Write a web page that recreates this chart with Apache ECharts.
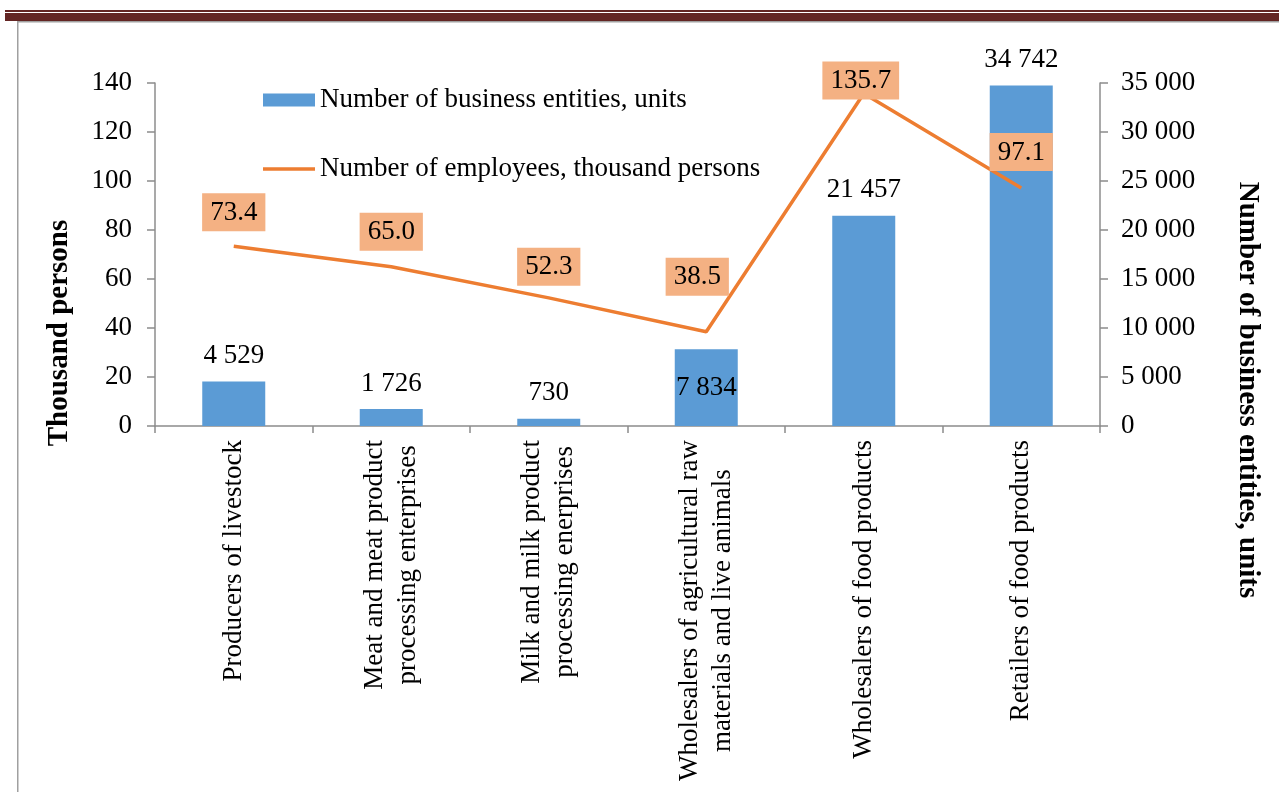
<!DOCTYPE html>
<html>
<head>
<meta charset="utf-8">
<script src="https://cdn.jsdelivr.net/npm/echarts@6/dist/echarts.min.js"></script>
<style>
html,body{margin:0;padding:0;background:#fff;}
#chart{width:1279px;height:792px;}
</style>
</head>
<body>
<div id="chart"></div>
<script>
// ---- data ----
const categories = [
  "Producers of livestock",
  "Meat and meat product\nprocessing enterprises",
  "Milk and milk product\nprocessing enerprises",
  "Wholesalers of agricultural raw\nmaterials and live animals",
  "Wholesalers of food products",
  "Retailers of food products"
];
const businessEntities = [4529, 1726, 730, 7834, 21457, 34742];
const employees = [73.4, 65.0, 52.3, 38.5, 135.7, 97.1];
const seriesNames = ["Number of business entities, units", "Number of employees, thousand persons"];
const leftAxisTitle = "Thousand persons";
const rightAxisTitle = "Number of business entities, units";

// ---- styling ----
const FONT = "'Liberation Serif', 'Times New Roman', serif";
const AXIS_COLOR = '#8c8c8c';
const LINE_COLOR = '#ED7D31';
const fmtSpace = v => String(v).replace(/\B(?=(\d{3})+(?!\d))/g, ' ');
// label placement tweaks (style, not data)
const lineLabelShift = [[0,-3],[0,-4],[0,0],[-9,-24],[-3,18],[0,-5]];
const barLabelInside = [false,false,false,true,false,false];

const chart = echarts.init(document.getElementById('chart'), null, {renderer:'canvas'});

const option = {
  backgroundColor: '#fff',
  animation: false,
  textStyle: {fontFamily: FONT},
  grid: {left: 155, right: 179, top: 83, bottom: 366, containLabel: false},
  legend: {
    orient: 'vertical',
    left: 263, top: 85,
    padding: 0,
    itemWidth: 52, itemHeight: 13,
    itemGap: 39,
    textStyle: {fontFamily: FONT, fontSize: 27, color: '#000', lineHeight: 30},
    data: [
      {name: seriesNames[0], icon: 'rect'},
      {name: seriesNames[1], icon: 'path://M0,0L52,0L52,3.5L0,3.5Z'}
    ]
  },
  xAxis: {
    type: 'category',
    data: categories,
    boundaryGap: true,
    axisLine: {show: true, lineStyle: {color: AXIS_COLOR, width: 1.5}},
    axisTick: {show: true, length: 7, lineStyle: {color: AXIS_COLOR, width: 1.5}},
    axisLabel: {
      interval: 0, rotate: 90, margin: 14,
      formatter: v => v.split('\n').map(s => '{c|' + s + '}').join('\n'),
      rich: {c: {fontFamily: FONT, fontSize: 27, lineHeight: 33, color: '#000', align: 'center'}}
    },
    splitLine: {show: false}
  },
  yAxis: [
    {
      type: 'value', min: 0, max: 140, interval: 20, position: 'left',
      axisLine: {show: true, lineStyle: {color: AXIS_COLOR, width: 1.5}},
      axisTick: {show: true, length: 8, lineStyle: {color: AXIS_COLOR, width: 1.5}},
      axisLabel: {fontFamily: FONT, fontSize: 27, color: '#000', margin: 23},
      splitLine: {show: false}
    },
    {
      type: 'value', min: 0, max: 35000, interval: 5000, position: 'right',
      axisLine: {show: true, lineStyle: {color: AXIS_COLOR, width: 1.5}},
      axisTick: {show: true, length: 8, lineStyle: {color: AXIS_COLOR, width: 1.5}},
      axisLabel: {fontFamily: FONT, fontSize: 27, color: '#000', margin: 21, formatter: v => fmtSpace(v)},
      splitLine: {show: false}
    }
  ],
  series: [
    {
      name: seriesNames[0],
      type: 'bar',
      yAxisIndex: 1,
      barWidth: 63,
      itemStyle: {color: '#5B9BD5'},
      data: businessEntities.map((v, i) => ({
        value: v,
        label: {position: barLabelInside[i] ? 'inside' : 'top'}
      })),
      label: {
        show: true, position: 'top', distance: 12,
        fontFamily: FONT, fontSize: 27, color: '#000',
        formatter: p => fmtSpace(p.value)
      }
    },
    {
      name: seriesNames[1],
      type: 'line',
      yAxisIndex: 0,
      symbol: 'none',
      showSymbol: false,
      lineStyle: {color: LINE_COLOR, width: 3.5},
      itemStyle: {color: LINE_COLOR},
      data: employees,
      z: 5
    },
    {
      name: 'employeeLabels',
      type: 'scatter',
      yAxisIndex: 0,
      symbol: 'circle',
      symbolSize: 0,
      silent: true,
      itemStyle: {color: LINE_COLOR, opacity: 1},
      data: employees.map((v, i) => ({
        value: v,
        label: {offset: lineLabelShift[i]}
      })),
      label: {
        show: true, position: 'top', distance: 12,
        opacity: 1,
        fontFamily: FONT, fontSize: 27, color: '#000',
        backgroundColor: '#F4B183',
        padding: [6, 8, 5, 8],
        formatter: p => p.value.toFixed(1)
      },
      z: 6
    }
  ],
  graphic: [
    {type: 'rect', shape: {x: 5, y: 10, width: 1274, height: 2}, style: {fill: '#632523'}, silent: true},
    {type: 'rect', shape: {x: 5, y: 13, width: 1274, height: 8}, style: {fill: '#632523'}, silent: true},
    {type: 'rect', shape: {x: 18, y: 21, width: 1261, height: 1.5}, style: {fill: '#a0a0a0'}, silent: true},
    {type: 'rect', shape: {x: 17, y: 21, width: 1.5, height: 771}, style: {fill: '#a0a0a0'}, silent: true},
    {
      type: 'text', x: 60, y: 333, rotation: Math.PI / 2,
      style: {text: leftAxisTitle, fontFamily: FONT, fontSize: 29, fontWeight: 'bold', fill: '#000', align: 'center', verticalAlign: 'middle'}
    },
    {
      type: 'text', x: 1247, y: 390, rotation: -Math.PI / 2,
      style: {text: rightAxisTitle, fontFamily: FONT, fontSize: 29, fontWeight: 'bold', fill: '#000', align: 'center', verticalAlign: 'middle'}
    }
  ]
};
chart.setOption(option);
</script>
</body>
</html>
